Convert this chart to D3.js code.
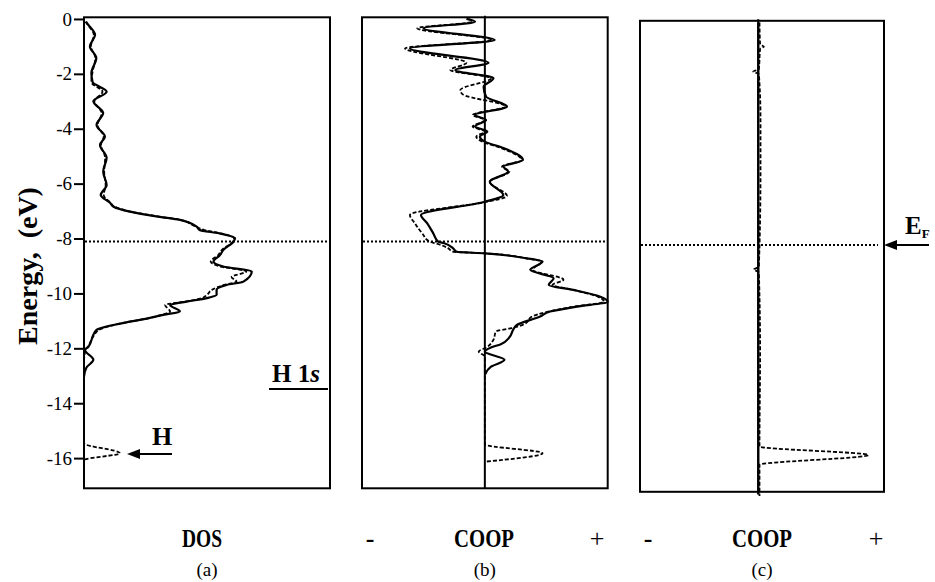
<!DOCTYPE html>
<html>
<head>
<meta charset="utf-8">
<script src="https://cdn.jsdelivr.net/npm/d3@7"></script>
<style>
  body { margin: 0; background: #fff; }
  svg { display: block; font-family: "Liberation Serif", "Times New Roman", serif; }
</style>
</head>
<body>
<div id="chart"></div>
<script>
// values (energies in eV)
const energyTicks = [0, -2, -4, -6, -8, -10, -12, -14, -16];
const fermiLevel = -8.11;
const panelLabels = ['(a)', '(b)', '(c)'];

// (a) H 1s DOS, arbitrary units 0..100
const dosSolidE = [-0.1, -0.2, -0.58, -1.0, -1.42, -1.97, -2.3, -2.65, -3.0, -3.43, -3.86, -4.29, -4.59, -5.06, -5.56, -6.05, -6.41, -6.7, -6.84, -7.02, -7.2, -7.32, -7.57, -7.69, -7.81, -7.99, -8.12, -8.42, -8.6, -8.84, -9.02, -9.2, -9.57, -9.69, -9.87, -10.05, -10.17, -10.3, -10.42, -10.66, -10.78, -10.93, -11.03, -11.33, -11.51, -11.94, -12.06, -12.42, -12.7, -13.03];
const dosSolidV = [0.8, 1.6, 4.5, 2.4, 5, 3, 3.5, 9.2, 3.8, 7.8, 5.1, 8.5, 6.5, 9.2, 7.8, 9.2, 6.8, 10.6, 12, 18.7, 30, 39, 45.8, 47, 55, 61.4, 60.7, 56.6, 55.3, 52.6, 56.6, 68.2, 64.8, 58, 53.9, 53.9, 49.9, 41.7, 35, 39, 32.2, 25, 18.7, 5.1, 3.8, 1.8, 0.4, 3.8, 1, 0];
const dosDashE = [-0.1, -0.2, -0.58, -1.0, -1.42, -1.97, -2.3, -2.65, -3.0, -3.43, -3.86, -4.29, -4.59, -5.06, -5.56, -6.05, -6.41, -6.7, -6.84, -7.02, -7.2, -7.32, -7.57, -7.69, -7.81, -7.99, -8.12, -8.42, -8.6, -8.84, -9.02, -9.2, -9.4, -9.57, -9.69, -9.87, -10.05, -10.17, -10.3, -10.42, -10.66, -10.78, -10.93, -11.03, -11.33, -11.51, -11.94, -12.06, -12.5, -15.46, -15.82, -16.07, -17.1];
const dosDashV = [0.6, 1.4, 4.0, 2.8, 4.6, 3.4, 3.0, 7.5, 4.2, 7.2, 5.5, 8.0, 6.9, 8.6, 8.2, 8.8, 8.0, 10.8, 12.5, 19, 30.5, 39, 45.5, 49, 55.5, 61, 60.5, 56, 54.6, 51.5, 55.5, 66, 60, 62, 57, 52, 50, 48, 41, 33, 35, 31.5, 25, 18.5, 6, 4.2, 1.6, 0.6, 0, 0, 14.6, 0, 0];

// (b) COOP, -1..1
const coopBSolidE = [0, -0.1, -0.34, -0.77, -1.07, -1.6, -1.86, -2.16, -2.47, -2.83, -3.19, -3.5, -3.68, -3.92, -4.1, -4.29, -4.47, -4.7, -5.14, -5.38, -5.56, -5.93, -6.41, -6.66, -7.14, -7.44, -7.81, -8.11, -8.17, -8.35, -8.48, -8.54, -8.72, -8.84, -9.14, -9.45, -9.69, -9.87, -10.12, -10.3, -10.48, -10.66, -10.84, -11.15, -11.33, -11.6, -11.85, -11.97, -12.12, -12.42, -12.67, -12.97];
const coopBSolidV = [-0.15, -0.08, -0.5, 0.08, -0.61, 0.03, -0.24, 0.07, -0.01, 0.01, 0.18, -0.08, 0.01, -0.08, 0.02, -0.04, 0, 0.15, 0.31, 0.15, 0.19, 0.04, 0.15, 0, -0.52, -0.47, -0.42, -0.38, -0.33, -0.26, -0.23, 0, 0.34, 0.47, 0.37, 0.56, 0.52, 0.72, 0.94, 1.0, 0.75, 0.53, 0.45, 0.26, 0.23, 0.2, 0.13, 0.05, 0, 0.16, 0.05, 0];
const coopBDashE = [0, -0.1, -0.34, -0.77, -1.07, -1.6, -1.86, -2.16, -2.59, -2.75, -3.19, -3.5, -3.68, -3.92, -4.1, -4.29, -4.47, -4.7, -5.14, -5.38, -5.56, -5.93, -6.45, -6.66, -7.14, -7.44, -7.81, -8.11, -8.2, -8.35, -8.48, -8.54, -8.72, -8.84, -9.14, -9.5, -9.69, -9.87, -10.12, -10.3, -10.5, -10.85, -11.1, -11.26, -11.39, -11.69, -11.95, -12.12, -12.3, -15.5, -15.82, -16.13];
const coopBDashV = [-0.13, -0.1, -0.55, 0.06, -0.65, -0.15, -0.28, 0.05, -0.2, -0.18, 0.17, -0.1, 0, -0.1, 0, -0.07, -0.02, 0.13, 0.3, 0.14, 0.2, 0.04, 0.18, 0.02, -0.61, -0.57, -0.51, -0.45, -0.38, -0.3, -0.26, 0, 0.34, 0.46, 0.39, 0.64, 0.55, 0.72, 0.92, 0.97, 0.7, 0.38, 0.33, 0.22, 0.09, 0.07, 0.02, -0.05, 0, 0, 0.47, 0];

// (c) COOP, -1..1
const coopCSolidE = [0, -17.2];
const coopCSolidV = [0, 0];
const coopCDashE = [0, -0.8, -0.88, -0.96, -1.7, -1.79, -1.88, -3.5, -5.5, -8.9, -9.0, -9.1, -12, -15.45, -15.76, -16.12, -17.25];
const coopCDashV = [0.01, 0.015, 0.045, 0.015, 0.005, -0.04, 0.005, 0.018, 0.018, 0.005, -0.035, 0.005, 0.015, 0.01, 0.875, 0.01, 0.01];

// layout
const width = 935, height = 582;
const panels = [
  { x0: 84, x1: 330, dy: 0, domain: [0, 100], zeroLine: false,
    series: [[dosDashE, dosDashV, true], [dosSolidE, dosSolidV, false]] },
  { x0: 362, x1: 607.7, dy: 0, domain: [-1, 1], zeroLine: true,
    series: [[coopBDashE, coopBDashV, true], [coopBSolidE, coopBSolidV, false]] },
  { x0: 640, x1: 884, dy: 3.5, domain: [-0.94, 1], zeroLine: true,
    series: [[coopCSolidE, coopCSolidV, false], [coopCDashE, coopCDashV, true]] }
];

const svg = d3.select('#chart').append('svg')
  .attr('width', width)
  .attr('height', height);
svg.append('rect').attr('width', width).attr('height', height).attr('fill', '#fff');

const yScale = d3.scaleLinear().domain([0.06, -17.1]).range([17.3, 488.3]);

function drawPanel(p, i) {
  const g = svg.append('g').attr('transform', 'translate(0,' + p.dy + ')');
  const xScale = d3.scaleLinear().domain(p.domain).range([p.x0, p.x1]);

  // fermi level
  g.append('line')
    .attr('x1', p.x0 + 1).attr('x2', p.x1 - (i === 2 ? 6 : 1))
    .attr('y1', yScale(fermiLevel)).attr('y2', yScale(fermiLevel))
    .attr('stroke', '#000').attr('stroke-width', 2)
    .attr('stroke-dasharray', '2,2');

  if (p.zeroLine) {
    g.append('line')
      .attr('x1', xScale(0)).attr('x2', xScale(0))
      .attr('y1', yScale.range()[0] - 1.5).attr('y2', yScale.range()[1] + (i === 2 ? 2 : 0))
      .attr('stroke', '#000').attr('stroke-width', 2);
  }

  const line = d3.line()
    .x(d => xScale(d[1]))
    .y(d => yScale(d[0]))
    .curve(d3.curveMonotoneY);

  p.series.forEach(([es, vs, dashed]) => {
    const pts = es.map((e, k) => [e, vs[k]]);
    g.append('path')
      .datum(pts)
      .attr('d', line)
      .attr('fill', 'none')
      .attr('stroke', '#000')
      .attr('stroke-width', dashed ? 1.8 : 2.2)
      .attr('stroke-dasharray', dashed ? '4,2' : null);
  });

  g.append('rect')
    .attr('x', p.x0).attr('y', yScale.range()[0])
    .attr('width', p.x1 - p.x0)
    .attr('height', yScale.range()[1] - yScale.range()[0])
    .attr('fill', 'none').attr('stroke', '#000').attr('stroke-width', 2);

  // caption under panel
  svg.append('text')
    .attr('x', (p.x0 + p.x1) / 2).attr('y', 576)
    .attr('text-anchor', 'middle')
    .style('font-size', '19px')
    .text(panelLabels[i]);
}

panels.forEach(drawPanel);

// energy axis
const yAxis = d3.axisLeft(yScale)
  .tickValues(energyTicks)
  .tickSize(10)
  .tickPadding(2)
  .tickFormat(d => String(d));
const axisG = svg.append('g')
  .attr('transform', 'translate(84,0)')
  .call(yAxis);
axisG.select('.domain').remove();
axisG.selectAll('.tick line').attr('stroke-width', 2);
axisG.selectAll('.tick text')
  .style('font-family', '"Liberation Serif", serif')
  .style('font-size', '19px')
  .attr('fill', '#000');

svg.append('text')
  .attr('transform', 'translate(37,266) rotate(-90)')
  .attr('text-anchor', 'middle')
  .style('font-weight', 'bold')
  .style('font-size', '28px')
  .text('Energy,\u00a0\u00a0(eV)');

// bottom axis titles
const bold = sel => sel.style('font-weight', 'bold').style('font-size', '26px').attr('text-anchor', 'middle');
svg.append('text').attr('x', 202).attr('y', 547).call(bold)
  .attr('textLength', 40).attr('lengthAdjust', 'spacingAndGlyphs').text('DOS');
svg.append('text').attr('x', 370).attr('y', 547).call(bold).text('-');
svg.append('text').attr('x', 484).attr('y', 547).call(bold)
  .attr('textLength', 60).attr('lengthAdjust', 'spacingAndGlyphs').text('COOP');
svg.append('text').attr('x', 597).attr('y', 547).call(bold).style('font-weight', 'normal').text('+');
svg.append('text').attr('x', 648).attr('y', 547).call(bold).text('-');
svg.append('text').attr('x', 762).attr('y', 547).call(bold)
  .attr('textLength', 60).attr('lengthAdjust', 'spacingAndGlyphs').text('COOP');
svg.append('text').attr('x', 876).attr('y', 547).call(bold).style('font-weight', 'normal').text('+');

// H 1s label
const h1s = svg.append('text')
  .attr('x', 296).attr('y', 382)
  .attr('text-anchor', 'middle')
  .style('font-weight', 'bold')
  .style('font-size', '25px');
h1s.append('tspan').text('H 1');
h1s.append('tspan').style('font-style', 'italic').text('s');
svg.append('line')
  .attr('x1', 269).attr('x2', 328).attr('y1', 389).attr('y2', 389)
  .attr('stroke', '#000').attr('stroke-width', 2);

// arrows
function arrow(xTip, xEnd, yy) {
  svg.append('line')
    .attr('x1', xTip + 10).attr('x2', xEnd).attr('y1', yy).attr('y2', yy)
    .attr('stroke', '#000').attr('stroke-width', 2);
  svg.append('path')
    .attr('d', d3.line()([[xTip, yy], [xTip + 13, yy - 5], [xTip + 13, yy + 5]]) + 'Z')
    .attr('fill', '#000');
}

arrow(127, 172, yScale(-15.85));
svg.append('text')
  .attr('x', 162).attr('y', 445)
  .attr('text-anchor', 'middle')
  .style('font-weight', 'bold')
  .style('font-size', '26px')
  .text('H');

arrow(884, 929, yScale(fermiLevel) + 3.5);
const ef = svg.append('text')
  .attr('x', 905).attr('y', 234)
  .style('font-weight', 'bold')
  .style('font-size', '25px');
ef.append('tspan').text('E');
ef.append('tspan').attr('dy', 4).style('font-size', '13px').text('F');
</script>
</body>
</html>
